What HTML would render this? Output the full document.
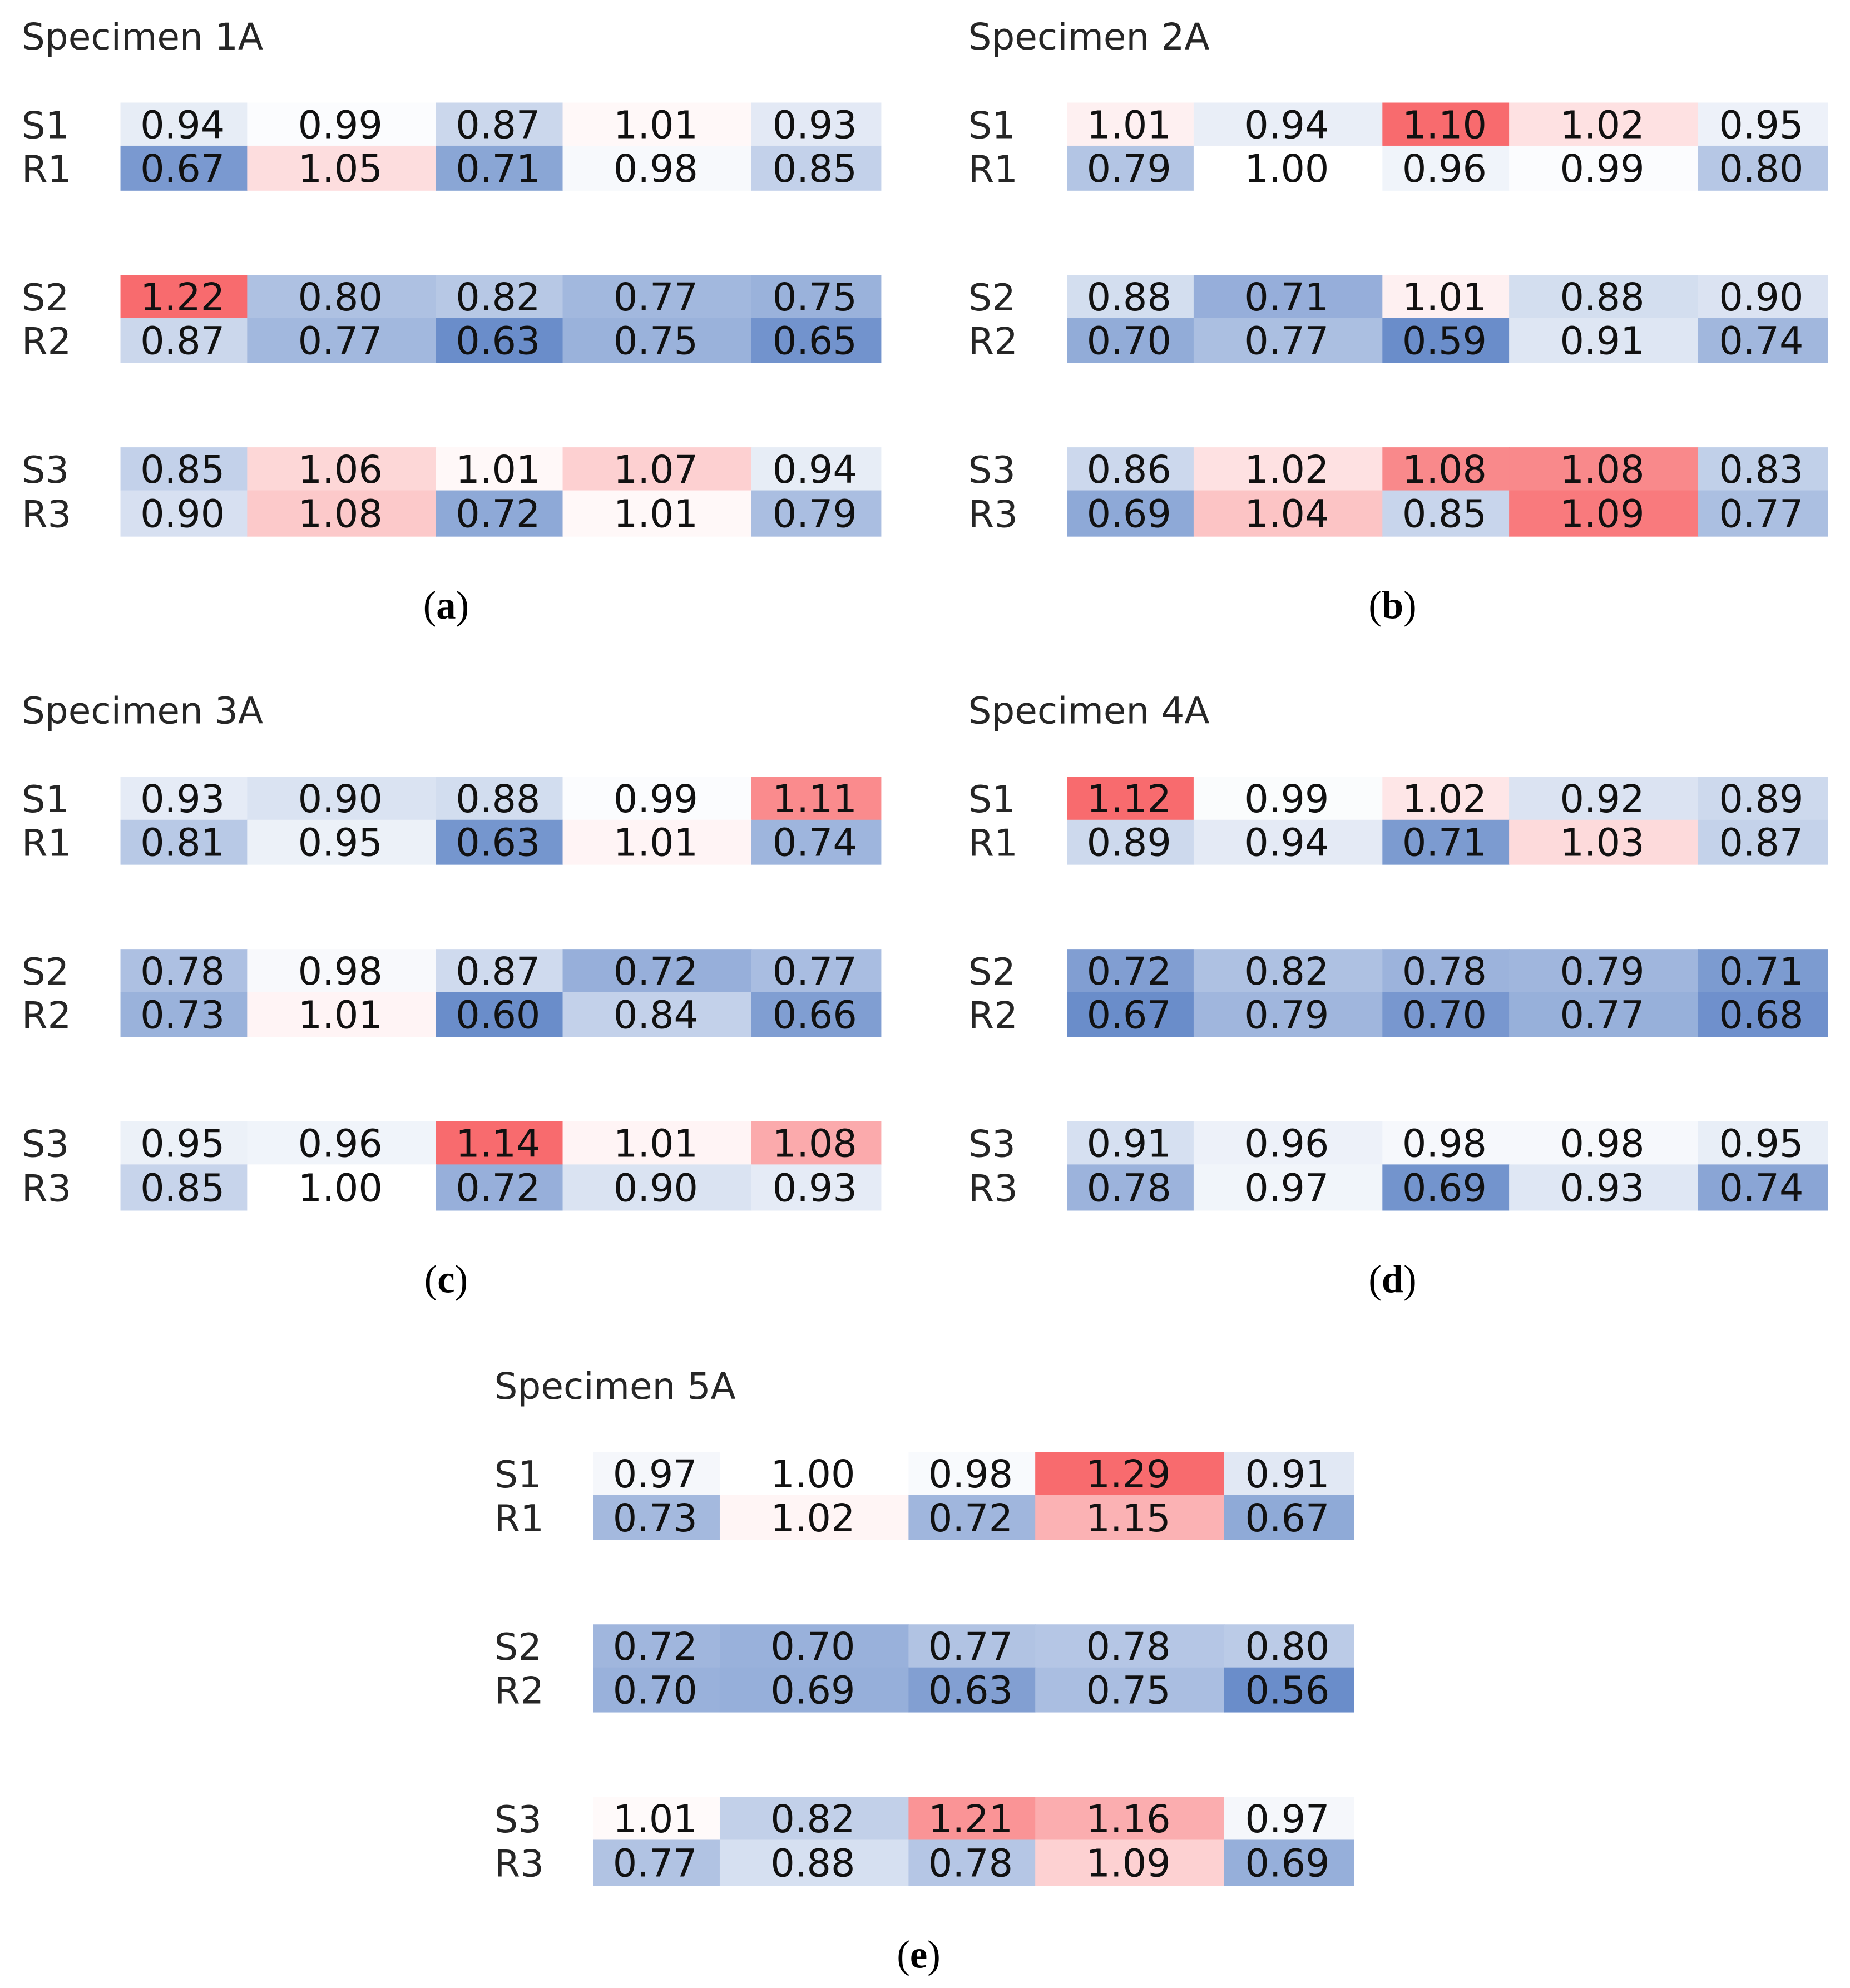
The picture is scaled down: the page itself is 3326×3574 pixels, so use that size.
<!DOCTYPE html>
<html><head><meta charset="utf-8"><style>
html,body{margin:0;padding:0;background:#fff;}
svg{display:block;}
</style></head><body>
<svg id="fig" xmlns="http://www.w3.org/2000/svg" width="3326" height="3574" viewBox="0 0 1460 1569"></svg>
<script>
const panelTitles = ["Specimen 1A","Specimen 2A","Specimen 3A","Specimen 4A","Specimen 5A"];
const panelCaptions = ["a","b","c","d","e"];
const rowLabels = ["S1","R1","S2","R2","S3","R3"];
const values1A = [[0.94,0.99,0.87,1.01,0.93],[0.67,1.05,0.71,0.98,0.85],[1.22,0.80,0.82,0.77,0.75],[0.87,0.77,0.63,0.75,0.65],[0.85,1.06,1.01,1.07,0.94],[0.90,1.08,0.72,1.01,0.79]];
const values2A = [[1.01,0.94,1.10,1.02,0.95],[0.79,1.00,0.96,0.99,0.80],[0.88,0.71,1.01,0.88,0.90],[0.70,0.77,0.59,0.91,0.74],[0.86,1.02,1.08,1.08,0.83],[0.69,1.04,0.85,1.09,0.77]];
const values3A = [[0.93,0.90,0.88,0.99,1.11],[0.81,0.95,0.63,1.01,0.74],[0.78,0.98,0.87,0.72,0.77],[0.73,1.01,0.60,0.84,0.66],[0.95,0.96,1.14,1.01,1.08],[0.85,1.00,0.72,0.90,0.93]];
const values4A = [[1.12,0.99,1.02,0.92,0.89],[0.89,0.94,0.71,1.03,0.87],[0.72,0.82,0.78,0.79,0.71],[0.67,0.79,0.70,0.77,0.68],[0.91,0.96,0.98,0.98,0.95],[0.78,0.97,0.69,0.93,0.74]];
const values5A = [[0.97,1.00,0.98,1.29,0.91],[0.73,1.02,0.72,1.15,0.67],[0.72,0.70,0.77,0.78,0.80],[0.70,0.69,0.63,0.75,0.56],[1.01,0.82,1.21,1.16,0.97],[0.77,0.88,0.78,1.09,0.69]];
const allValues = [values1A,values2A,values3A,values4A,values5A];

const NS="http://www.w3.org/2000/svg";
const svg=document.getElementById('fig');
const offsets=[[0,0],[747,0],[0,532],[747,532],[373,1065]];
const colEdges=[95,195,344,444,593,695];
const rowTops=[81,115,217,251,353,387];
const rowH=[34,35,34,35,34,36];
const RED=[248,107,110], BLUE=[106,141,202];
function colorFor(v,mx,mn){
  let c,t;
  if(v>=1){t=mx>1?(v-1)/(mx-1):0;c=RED;}else{t=mn<1?(1-v)/(1-mn):0;c=BLUE;}
  t=Math.max(0,Math.min(1,t));
  const r=c.map(k=>Math.round(255-t*(255-k)));
  return `rgb(${r[0]},${r[1]},${r[2]})`;
}
function mk(tag,attrs,txt){const e=document.createElementNS(NS,tag);for(const k in attrs)e.setAttribute(k,attrs[k]);if(txt!==undefined)e.textContent=txt;return e;}
allValues.forEach((vals,p)=>{
  const [ox,oy]=offsets[p];
  const g=mk('g',{});
  
  
  svg.appendChild(g);
  const flat=vals.flat();const mx=Math.max(...flat),mn=Math.min(...flat);
  const t=mk('text',{x:ox+17,y:oy+39,'font-family':'DejaVu Sans, Liberation Sans, sans-serif','font-size':29,fill:'#262626'},panelTitles[p]);
  
  
  g.appendChild(t);
  rowLabels.forEach((lab,r)=>{
    const y0=oy+rowTops[r],h=rowH[r];
    const l=mk('text',{x:ox+17,y:y0+h/2+11,'font-family':'DejaVu Sans, Liberation Sans, sans-serif','font-size':29.5,fill:'#262626'},lab);
    
    
    g.appendChild(l);
    vals[r].forEach((v,c)=>{
      const x0=ox+colEdges[c],w=colEdges[c+1]-colEdges[c];
      const rc=mk('rect',{x:x0,y:y0,width:w+0.5,height:h+0.5,fill:colorFor(v,mx,mn)});
      
      
      g.appendChild(rc);
      const tx=mk('text',{x:x0+w/2-1,y:y0+h/2+11,'text-anchor':'middle','font-family':'DejaVu Sans, Liberation Sans, sans-serif','font-size':30,fill:'#111'},v.toFixed(2));
      
      
      g.appendChild(tx);
    });
  });
  const cap=mk('text',{x:ox+352,y:oy+488,'text-anchor':'middle','font-family':'Liberation Serif, serif','font-size':31,fill:'#000'});
  
  
  cap.appendChild(mk('tspan',{},'('));
  cap.appendChild(mk('tspan',{'font-weight':'bold'},panelCaptions[p]));
  cap.appendChild(mk('tspan',{},')'));
  g.appendChild(cap);
});
</script>
</body></html>
